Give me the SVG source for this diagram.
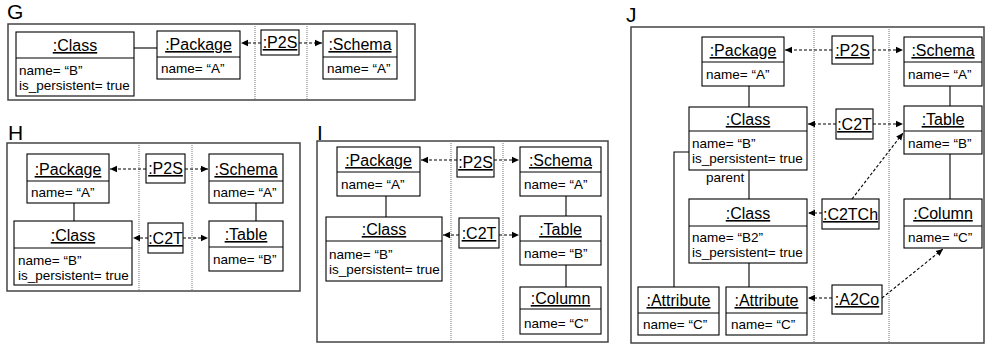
<svg xmlns="http://www.w3.org/2000/svg" width="987" height="345" viewBox="0 0 987 345">
<defs>
<marker id="ah" markerWidth="8" markerHeight="8" refX="7" refY="4" orient="auto" markerUnits="userSpaceOnUse">
<path d="M0,0.8 L7,4 L0,7.2 Z" fill="#000"/>
</marker>
<style>
text{font-family:"Liberation Sans",Arial,sans-serif;fill:#000}
.lbl{font-size:21px}
.h{font-size:16px;text-anchor:middle;text-decoration:underline}
.a{font-size:13.5px}
.box{fill:#fff;stroke:#000;stroke-width:1.1}
.sep{stroke:#000;stroke-width:1.1}
.frame{fill:none;stroke:#444;stroke-width:1.5}
.dot{stroke:#777;stroke-width:1;stroke-dasharray:1,1}
.sol{stroke:#000;stroke-width:1.1;fill:none}
.dash{stroke:#000;stroke-width:1.1;stroke-dasharray:3,2;fill:none;marker-end:url(#ah)}
</style>
</defs>
<rect width="987" height="345" fill="#fff"/>

<!-- Panel G -->
<g id="panelG">
<text class="lbl" x="7" y="19">G</text>
<rect class="frame" x="8" y="24" width="407" height="76"/>
<line class="dot" x1="255" y1="24" x2="255" y2="100"/>
<line class="dot" x1="307" y1="24" x2="307" y2="100"/>
</g>
<g id="G_class">
<rect class="box" x="16" y="32" width="118" height="64"/>
<line class="sep" x1="16" y1="58" x2="134" y2="58"/>
<text class="h" x="75" y="51">:Class</text>
<text class="a" x="19" y="75">name= “B”</text>
<text class="a" x="19" y="90">is_persistent= true</text>
</g>
<g id="G_package">
<rect class="box" x="157" y="31" width="83" height="48"/>
<line class="sep" x1="157" y1="57" x2="240" y2="57"/>
<text class="h" x="198.5" y="50">:Package</text>
<text class="a" x="161" y="73">name= “A”</text>
</g>
<g id="G_p2s">
<rect class="box" x="261" y="30" width="38" height="25"/>
<text class="h" x="280" y="48">:P2S</text>
</g>
<g id="G_schema">
<rect class="box" x="323" y="31" width="74" height="48"/>
<line class="sep" x1="323" y1="57" x2="397" y2="57"/>
<text class="h" x="360" y="50">:Schema</text>
<text class="a" x="327" y="73">name= “A”</text>
</g>

<!-- Panel H -->
<g id="panelH">
<text class="lbl" x="8" y="140">H</text>
<rect class="frame" x="7" y="143" width="293" height="148"/>
<line class="dot" x1="139" y1="143" x2="139" y2="291"/>
<line class="dot" x1="192" y1="143" x2="192" y2="291"/>
</g>
<g id="H_package">
<rect class="box" x="27" y="154" width="82" height="49"/>
<line class="sep" x1="27" y1="181" x2="109" y2="181"/>
<text class="h" x="68" y="175">:Package</text>
<text class="a" x="31" y="197">name= “A”</text>
</g>
<g id="H_class">
<rect class="box" x="14" y="221" width="118" height="64"/>
<line class="sep" x1="14" y1="248" x2="132" y2="248"/>
<text class="h" x="73" y="241">:Class</text>
<text class="a" x="18" y="265">name= “B”</text>
<text class="a" x="18" y="280">is_persistent= true</text>
</g>
<g id="H_p2s">
<rect class="box" x="146" y="154" width="39" height="29"/>
<text class="h" x="165.5" y="174">:P2S</text>
</g>
<g id="H_c2t">
<rect class="box" x="148" y="223" width="35" height="30"/>
<text class="h" x="165.5" y="244">:C2T</text>
</g>
<g id="H_schema">
<rect class="box" x="209" y="154" width="74" height="49"/>
<line class="sep" x1="209" y1="181" x2="283" y2="181"/>
<text class="h" x="246" y="175">:Schema</text>
<text class="a" x="213" y="197">name= “A”</text>
</g>
<g id="H_table">
<rect class="box" x="209" y="221" width="74" height="50"/>
<line class="sep" x1="209" y1="247" x2="283" y2="247"/>
<text class="h" x="246" y="240">:Table</text>
<text class="a" x="213" y="264">name= “B”</text>
</g>

<!-- Panel I -->
<g id="panelI">
<text class="lbl" x="317" y="140">I</text>
<rect class="frame" x="317" y="141" width="291" height="201"/>
<line class="dot" x1="451" y1="141" x2="451" y2="342"/>
<line class="dot" x1="503" y1="141" x2="503" y2="342"/>
</g>
<g id="I_package">
<rect class="box" x="337" y="147" width="83" height="49"/>
<line class="sep" x1="337" y1="172" x2="420" y2="172"/>
<text class="h" x="378.5" y="166">:Package</text>
<text class="a" x="341" y="189">name= “A”</text>
</g>
<g id="I_class">
<rect class="box" x="326" y="217" width="116" height="64"/>
<line class="sep" x1="326" y1="241" x2="442" y2="241"/>
<text class="h" x="384" y="235">:Class</text>
<text class="a" x="329" y="259">name= “B”</text>
<text class="a" x="329" y="274">is_persistent= true</text>
</g>
<g id="I_p2s">
<rect class="box" x="457" y="147" width="37" height="30"/>
<text class="h" x="475.5" y="168">:P2S</text>
</g>
<g id="I_c2t">
<rect class="box" x="459" y="218" width="40" height="30"/>
<text class="h" x="479" y="239">:C2T</text>
</g>
<g id="I_schema">
<rect class="box" x="520" y="147" width="81" height="49"/>
<line class="sep" x1="520" y1="172" x2="601" y2="172"/>
<text class="h" x="560.5" y="166">:Schema</text>
<text class="a" x="524" y="189">name= “A”</text>
</g>
<g id="I_table">
<rect class="box" x="520" y="216" width="81" height="49"/>
<line class="sep" x1="520" y1="241" x2="601" y2="241"/>
<text class="h" x="560.5" y="235">:Table</text>
<text class="a" x="524" y="258">name= “B”</text>
</g>
<g id="I_column">
<rect class="box" x="520" y="287" width="81" height="47"/>
<line class="sep" x1="520" y1="309" x2="601" y2="309"/>
<text class="h" x="560.5" y="304">:Column</text>
<text class="a" x="524" y="328">name= “C”</text>
</g>

<!-- Panel J -->
<g id="panelJ">
<text class="lbl" x="626" y="22">J</text>
<rect class="frame" x="631" y="27" width="353" height="316"/>
<line class="dot" x1="814" y1="27" x2="814" y2="343"/>
<line class="dot" x1="889" y1="27" x2="889" y2="343"/>
<text class="a" x="706" y="182">parent</text>
</g>
<g id="J_package">
<rect class="box" x="702" y="37" width="82" height="49"/>
<line class="sep" x1="702" y1="62" x2="784" y2="62"/>
<text class="h" x="743" y="56">:Package</text>
<text class="a" x="706" y="79">name= “A”</text>
</g>
<g id="J_class1">
<rect class="box" x="689" y="107" width="118" height="63"/>
<line class="sep" x1="689" y1="131" x2="807" y2="131"/>
<text class="h" x="748" y="125">:Class</text>
<text class="a" x="692" y="148">name= “B”</text>
<text class="a" x="692" y="163">is_persistent= true</text>
</g>
<g id="J_class2">
<rect class="box" x="689" y="199" width="118" height="64"/>
<line class="sep" x1="689" y1="226" x2="807" y2="226"/>
<text class="h" x="748" y="219">:Class</text>
<text class="a" x="692" y="242">name= “B2”</text>
<text class="a" x="692" y="257">is_persistent= true</text>
</g>
<g id="J_attr1">
<rect class="box" x="638" y="287" width="81" height="48"/>
<line class="sep" x1="638" y1="313" x2="719" y2="313"/>
<text class="h" x="678.5" y="306">:Attribute</text>
<text class="a" x="643" y="329">name= “C”</text>
</g>
<g id="J_attr2">
<rect class="box" x="726" y="287" width="81" height="48"/>
<line class="sep" x1="726" y1="313" x2="807" y2="313"/>
<text class="h" x="766.5" y="306">:Attribute</text>
<text class="a" x="731" y="329">name= “C”</text>
</g>
<g id="J_p2s">
<rect class="box" x="832" y="36" width="41" height="28"/>
<text class="h" x="852.5" y="56">:P2S</text>
</g>
<g id="J_c2t">
<rect class="box" x="836" y="109" width="37" height="30"/>
<text class="h" x="854.5" y="130">:C2T</text>
</g>
<g id="J_c2tch">
<rect class="box" x="822" y="199" width="57" height="30"/>
<text class="h" x="850.5" y="220">:C2TCh</text>
</g>
<g id="J_a2co">
<rect class="box" x="832" y="285" width="50" height="29"/>
<text class="h" x="857" y="305">:A2Co</text>
</g>
<g id="J_schema">
<rect class="box" x="904" y="37" width="78" height="49"/>
<line class="sep" x1="904" y1="62" x2="982" y2="62"/>
<text class="h" x="943" y="56">:Schema</text>
<text class="a" x="908" y="79">name= “A”</text>
</g>
<g id="J_table">
<rect class="box" x="904" y="106" width="78" height="48"/>
<line class="sep" x1="904" y1="131" x2="982" y2="131"/>
<text class="h" x="943" y="125">:Table</text>
<text class="a" x="908" y="148">name= “B”</text>
</g>
<g id="J_column">
<rect class="box" x="904" y="199" width="78" height="49"/>
<line class="sep" x1="904" y1="226" x2="982" y2="226"/>
<text class="h" x="943" y="219">:Column</text>
<text class="a" x="908" y="242">name= “C”</text>
</g>

<!-- Connectors -->
<g id="connectors">
<line class="sol" x1="134" y1="48" x2="157" y2="48"/>
<line class="dash" x1="261" y1="43" x2="241" y2="43"/>
<line class="dash" x1="299" y1="43" x2="322" y2="43"/>

<line class="sol" x1="74" y1="203" x2="74" y2="221"/>
<line class="sol" x1="256" y1="203" x2="256" y2="221"/>
<line class="dash" x1="146" y1="169" x2="110" y2="169"/>
<line class="dash" x1="185" y1="169" x2="208" y2="169"/>
<line class="dash" x1="148" y1="238" x2="133" y2="238"/>
<line class="dash" x1="183" y1="238" x2="208" y2="238"/>

<line class="sol" x1="386" y1="196" x2="386" y2="217"/>
<line class="sol" x1="566" y1="196" x2="566" y2="216"/>
<line class="sol" x1="566" y1="265" x2="566" y2="287"/>
<line class="dash" x1="457" y1="160" x2="421" y2="160"/>
<line class="dash" x1="494" y1="160" x2="519" y2="160"/>
<line class="dash" x1="459" y1="235" x2="443" y2="235"/>
<line class="dash" x1="499" y1="235" x2="519" y2="235"/>

<line class="sol" x1="749" y1="86" x2="749" y2="107"/>
<line class="sol" x1="749" y1="170" x2="749" y2="199"/>
<line class="sol" x1="749" y1="263" x2="749" y2="287"/>
<polyline class="sol" points="689,152 674,152 674,287"/>
<line class="sol" x1="950" y1="86" x2="950" y2="106"/>
<line class="sol" x1="950" y1="154" x2="950" y2="199"/>
<line class="dash" x1="832" y1="50" x2="785" y2="50"/>
<line class="dash" x1="873" y1="50" x2="903" y2="50"/>
<line class="dash" x1="836" y1="124" x2="808" y2="124"/>
<line class="dash" x1="873" y1="124" x2="903" y2="124"/>
<line class="dash" x1="822" y1="213" x2="808" y2="213"/>
<line class="dash" x1="852" y1="199" x2="903" y2="133"/>
<line class="dash" x1="832" y1="298" x2="808" y2="298"/>
<line class="dash" x1="882" y1="298" x2="943" y2="249"/>
</g>
</svg>
